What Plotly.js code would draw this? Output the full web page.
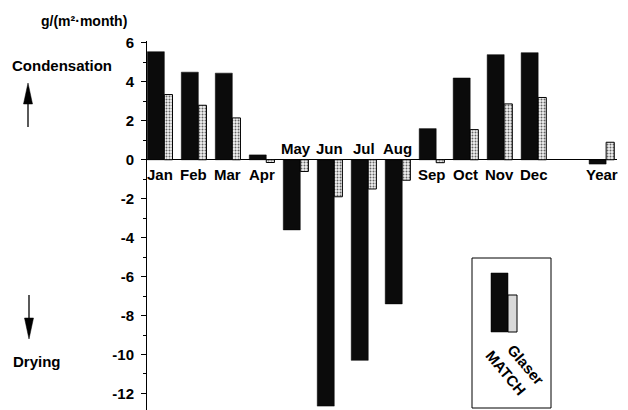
<!DOCTYPE html>
<html>
<head>
<meta charset="utf-8">
<script src="https://cdn.plot.ly/plotly-3.0.1.min.js"></script>
<style>html,body{margin:0;padding:0;background:#fff;}#chart{width:628px;height:410px;}</style>
</head>
<body>
<div id="chart"></div>
<script>
// ---- data ----
const categories = ['Jan','Feb','Mar','Apr','May','Jun','Jul','Aug','Sep','Oct','Nov','Dec','Year'];
const glaser = [5.55, 4.5, 4.45, 0.25, -3.6, -12.65, -10.3, -7.4, 1.6, 4.2, 5.4, 5.5, -0.22];
const match  = [3.35, 2.8, 2.15, -0.14, -0.6, -1.9, -1.5, -1.05, -0.15, 1.55, 2.87, 3.2, 0.9];
const yTickVals = [-12, -10, -8, -6, -4, -2, 0, 2, 4, 6];
const unitLabel = 'g/(m²·month)';
const seriesNames = ['Glaser', 'MATCH'];

// ---- layout helpers (pixel -> paper) ----
const W = 628, H = 410, ML = 147, MR = 11, MT = 41, MB = 0;
const PW = W - ML - MR, PH = H - MT - MB;
const px = v => (v - ML) / PW;
const py = v => 1 - (v - MT) / PH;
const FONT = 'Liberation Sans, Arial, Helvetica, sans-serif';
const TXT = {family: FONT, size: 15, color: '#000', weight: 'bold'};

const axisOrder = categories.slice(0, 12).concat([' ', categories[12]]);

const traces = [
  {
    type: 'bar', x: categories, y: glaser, name: seriesNames[0],
    width: 0.5, offset: -0.37,
    marker: {color: '#0b0b0b', line: {color: '#000', width: 0.5}},
    hoverinfo: 'skip'
  },
  {
    type: 'bar', x: categories, y: match, name: seriesNames[1],
    width: 0.24, offset: 0.13,
    marker: {color: '#e6e6e6', line: {color: '#000', width: 1},
      pattern: {shape: '.', fgcolor: '#666', bgcolor: '#f2f2f2', size: 3, solidity: 0.35}},
    hoverinfo: 'skip'
  }
];

const annotations = [];
categories.forEach((c, i) => {
  const above = glaser[i] < 0 && match[i] < 0;
  annotations.push({
    x: c, y: 0, xref: 'x', yref: 'y', text: c, showarrow: false,
    xanchor: 'center', yanchor: 'middle', yshift: above ? 11 : -15,
    font: TXT
  });
});
const txt = (t, x, y, size, extra) => Object.assign({
  text: t, x: px(x), y: py(y), xref: 'paper', yref: 'paper', showarrow: false,
  xanchor: 'center', yanchor: 'middle', font: Object.assign({}, TXT, {size: size})
}, extra || {});
annotations.push(txt(unitLabel, 84, 21, 14));
annotations.push(txt('Condensation', 62, 65, 15));
annotations.push(txt('Drying', 37, 361, 15));
annotations.push(txt(seriesNames[0], 526, 364, 15, {textangle: 50}));
annotations.push(txt(seriesNames[1], 506, 372, 15, {textangle: 50}));

const rect = (x0, y0, x1, y1, fill, lw) => ({
  type: 'rect', xref: 'paper', yref: 'paper', x0: px(x0), x1: px(x1), y0: py(y1), y1: py(y0),
  fillcolor: fill, line: {color: '#000', width: lw}
});
const line = (x0, y0, x1, y1, lw) => ({
  type: 'line', xref: 'paper', yref: 'paper', x0: px(x0), x1: px(x1), y0: py(y0), y1: py(y1),
  line: {color: '#000', width: lw}
});
const tri = (pts) => ({
  type: 'path', xref: 'paper', yref: 'paper',
  path: 'M' + pts.map(p => px(p[0]) + ',' + py(p[1])).join('L') + 'Z',
  fillcolor: '#000', line: {color: '#000', width: 0.5}
});
const shapes = [
  rect(472, 258, 551, 408, 'rgba(0,0,0,0)', 1),
  rect(491, 273, 508, 332, '#0b0b0b', 0.5),
  rect(508, 295, 517, 332, '#d9d9d9', 1),
  // up arrow
  line(28, 100, 28, 127, 1.3),
  tri([[28, 83], [23.5, 104], [32.5, 104]]),
  // down arrow
  line(29, 295, 29, 320, 1.3),
  tri([[29, 339], [24.5, 318], [33.5, 318]])
];

const layout = {
  width: W, height: H,
  margin: {l: ML, r: MR, t: MT, b: MB, pad: 0},
  paper_bgcolor: '#fff', plot_bgcolor: '#fff',
  barmode: 'overlay', showlegend: false,
  font: {family: FONT, size: 14, color: '#000'},
  xaxis: {
    type: 'category', categoryorder: 'array', categoryarray: axisOrder,
    range: [-0.38, 13.45], showticklabels: false, ticks: '', showgrid: false,
    showline: false, zeroline: false, fixedrange: true
  },
  yaxis: {
    range: [-12.85, 6.1], tickvals: yTickVals, ticktext: yTickVals.map(String),
    ticks: 'outside', ticklen: 5, tickwidth: 1, tickcolor: '#000',
    minor: {dtick: 1, tick0: 0, ticks: 'outside', ticklen: 3, tickcolor: '#000', showgrid: false},
    showline: true, linecolor: '#000', linewidth: 1, showgrid: false,
    zeroline: true, zerolinecolor: '#000', zerolinewidth: 1,
    tickfont: TXT, ticklabelstandoff: 4, fixedrange: true
  },
  annotations: annotations,
  shapes: shapes
};

Plotly.newPlot('chart', traces, layout, {displayModeBar: false, staticPlot: true});
</script>
</body>
</html>
